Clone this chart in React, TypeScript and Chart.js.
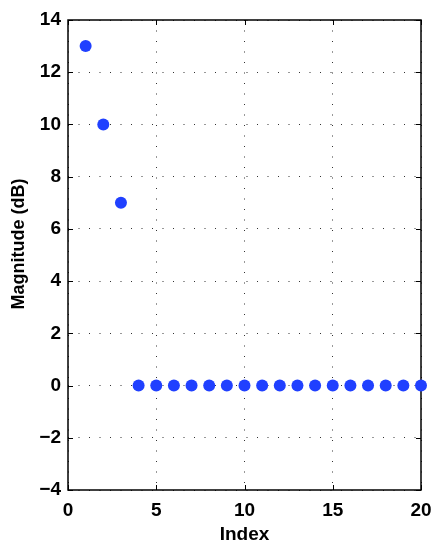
import React, { useEffect, useRef } from "react";
import { Chart, registerables } from "chart.js";

Chart.register(...registerables);

const indices = [1, 2, 3, 4, 5, 6, 7, 8, 9, 10, 11, 12, 13, 14, 15, 16, 17, 18, 19, 20];
const magnitudes = [13, 10, 7, 0, 0, 0, 0, 0, 0, 0, 0, 0, 0, 0, 0, 0, 0, 0, 0, 0];
const xTicks = [0, 5, 10, 15, 20];
const yTicks = [-4, -2, 0, 2, 4, 6, 8, 10, 12, 14];
const xTitle = "Index";
const yTitle = "Magnitude (dB)";

const FONT = "'Liberation Sans', Arial, Helvetica, sans-serif";
const FS = 19;

const framePlugin = {
  id: "matlabFrame",
  beforeDatasetsDraw(chart: any) {
    const { ctx, chartArea } = chart;
    const { left, right, top, bottom } = chartArea;
    const xs = chart.scales.x;
    const ys = chart.scales.y;
    const tl = 5;
    ctx.save();
    ctx.strokeStyle = "#000";
    ctx.lineWidth = 1;
    ctx.beginPath();
    for (const v of xTicks) {
      const px = Math.round(xs.getPixelForValue(v)) + 0.5;
      ctx.moveTo(px, bottom);
      ctx.lineTo(px, bottom - tl);
      ctx.moveTo(px, top);
      ctx.lineTo(px, top + tl);
    }
    for (const v of yTicks) {
      const py = Math.round(ys.getPixelForValue(v)) + 0.5;
      ctx.moveTo(left, py);
      ctx.lineTo(left + tl, py);
      ctx.moveTo(right, py);
      ctx.lineTo(right - tl, py);
    }
    ctx.stroke();
    ctx.lineWidth = 1.5;
    ctx.strokeRect(left, top, right - left, bottom - top);
    ctx.restore();
  },
  afterDraw(chart: any) {
    const { ctx, chartArea } = chart;
    ctx.save();
    ctx.translate(19.5, (chartArea.top + chartArea.bottom) / 2 - 11);
    ctx.rotate(-Math.PI / 2);
    ctx.fillStyle = "#000";
    ctx.font = `bold 18px ${FONT}`;
    ctx.textAlign = "center";
    ctx.textBaseline = "middle";
    ctx.fillText(yTitle, 0, 0);
    ctx.restore();
  },
};

export default function App() {
  const ref = useRef<HTMLCanvasElement | null>(null);
  useEffect(() => {
    if (!ref.current) return;
    const chart = new Chart(ref.current, {
      type: "scatter",
      data: {
        datasets: [
          {
            data: indices.map((x, i) => ({ x, y: magnitudes[i] })),
            backgroundColor: "#2040ff",
            borderColor: "#2040ff",
            pointRadius: 6,
            pointHoverRadius: 6,
            borderWidth: 0,
            clip: false as any,
          },
        ],
      },
      options: {
        animation: false,
        responsive: false,
        maintainAspectRatio: false,
        layout: { padding: { top: 20, right: 22, left: 0, bottom: 0 } },
        plugins: { legend: { display: false }, tooltip: { enabled: false } },
        scales: {
          x: {
            type: "linear",
            min: 0,
            max: 20,
            afterBuildTicks: (s: any) => {
              s.ticks = xTicks.map((v) => ({ value: v }));
            },
            afterFit: (s: any) => {
              s.height = 60;
            },
            ticks: {
              color: "#000",
              font: { family: FONT, size: FS, weight: "bold" },
              padding: 9,
            },
            grid: {
              color: "#333",
              lineWidth: 1,
              drawTicks: false,
              tickLength: 0,
            },
            border: { display: false, dash: [1, 9.5] },
            title: {
              display: true,
              text: xTitle,
              color: "#000",
              font: { family: FONT, size: FS, weight: "bold" },
              padding: { top: 0, bottom: 4 },
            },
          } as any,
          y: {
            type: "linear",
            min: -4,
            max: 14,
            afterBuildTicks: (s: any) => {
              s.ticks = yTicks.map((v) => ({ value: v }));
            },
            afterFit: (s: any) => {
              s.width = 68;
            },
            ticks: {
              color: "#000",
              font: { family: FONT, size: FS, weight: "bold" },
              padding: 7,
              callback: (v: any) => (Number(v) < 0 ? "\u2212" + Math.abs(Number(v)) : String(v)),
            },
            grid: {
              color: "#333",
              lineWidth: 1,
              drawTicks: false,
              tickLength: 0,
            },
            border: { display: false, dash: [1, 9.5] },
            title: { display: false },
          } as any,
        },
      },
      plugins: [framePlugin],
    });
    return () => chart.destroy();
  }, []);
  return (
    <div style={{ position: "absolute", left: 0, top: 0, width: 443, height: 550, background: "#fff" }}>
      <canvas ref={ref} width={443} height={550} style={{ width: 443, height: 550 }} />
    </div>
  );
}
